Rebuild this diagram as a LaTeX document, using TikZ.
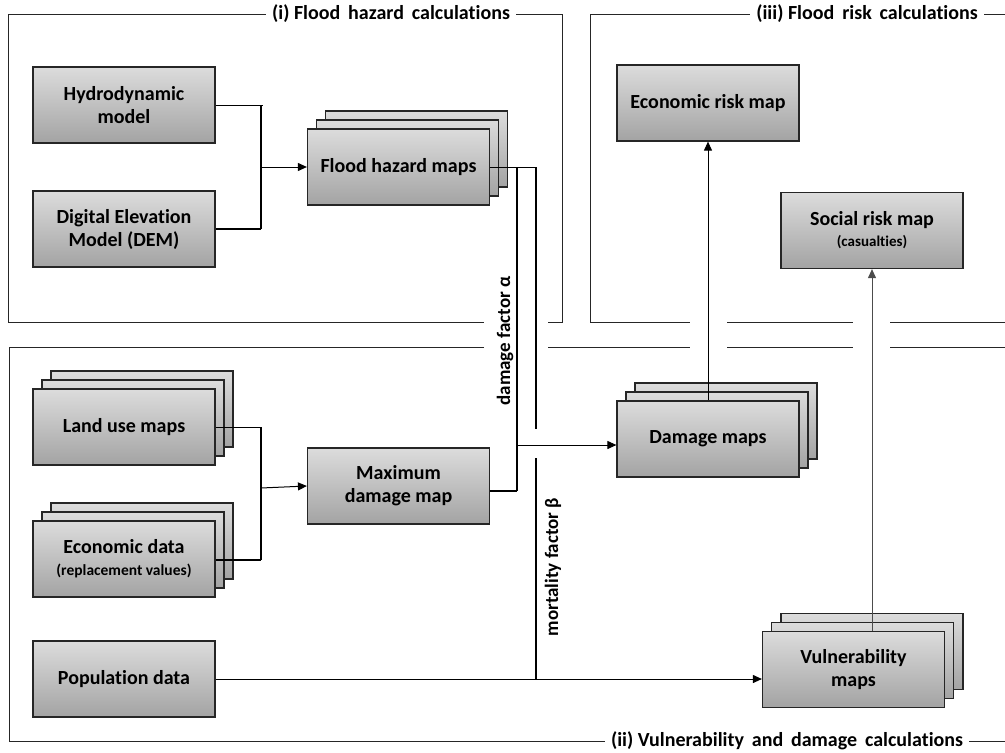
\documentclass[tikz,border=0pt]{standalone}
\usepackage{fontspec}
\setmainfont{Carlito}[Ligatures=NoCommon]
\usetikzlibrary{arrows.meta}
\definecolor{boxtop}{HTML}{DCDCDC}
\definecolor{boxbot}{HTML}{A3A3A3}
\definecolor{edge}{HTML}{262626}
\begin{document}
\begin{tikzpicture}[x=1pt,y=-1pt,
  box/.style={draw=edge, line width=1.2pt, top color=boxtop, bottom color=boxbot,
    minimum width=182pt, minimum height=76pt, inner sep=0pt, align=center,
    font=\fontsize{20}{23}\selectfont\bfseries},
  frameline/.style={line width=1pt, draw=edge},
  ttl/.style={fill=white, inner xsep=6pt, inner ysep=2pt,
    font=\fontsize{20}{22}\selectfont\bfseries},
  conn/.style={line width=1.5pt, draw=black},
  thin/.style={line width=1pt, draw=black},
  arr/.style={line width=1pt, draw=black, -{Triangle[length=9pt,width=8pt]}},
  lbl/.style={rotate=90, font=\fontsize{19}{22}\selectfont\bfseries, inner sep=0pt}
]
\useasboundingbox (0,0) rectangle (1005,753);

% ---------- frames ----------
\draw[frameline] (562,14) -- (8,14) -- (8,322) -- (484,322);
\draw[frameline] (548,322) -- (562,322) -- (562,14);
\node[ttl] (t1) at (391,14) {(i) Flood\, hazard\, calculations};

\draw[frameline] (1005,14) -- (590,14) -- (590,322) -- (690,322);
\draw[frameline] (727,322) -- (853,322);
\draw[frameline] (890,322) -- (1005,322);
\node[ttl] (t3) at (867,14) {(iii) Flood\, risk\, calculations};

\draw[frameline] (484,347) -- (9,347) -- (9,741) -- (1005,741);
\draw[frameline] (548,347) -- (690,347);
\draw[frameline] (727,347) -- (853,347);
\draw[frameline] (890,347) -- (1005,347);
\node[ttl] (t2) at (787,741) {(ii) Vulnerability\, and\, damage\, calculations};

% ---------- boxes ----------
\node[box] (hydro) at (124,105) {Hydrodynamic\\model};
\node[box] (dem) at (124,229) {Digital Elevation\\Model (DEM)};

\node[box] (fhm3) at (416.5,149) {};
\node[box] (fhm2) at (407.5,158) {};
\node[box] (fhm) at (398.5,167) {Flood hazard maps};

\node[box] (lum3) at (142,409) {};
\node[box] (lum2) at (133,418) {};
\node[box] (lum) at (124,427) {Land use maps};

\node[box] (eco3) at (142,541) {};
\node[box] (eco2) at (133,550) {};
\node[box] (eco) at (124,559) {Economic data\\[-1pt]{\fontsize{15.5}{18}\selectfont (replacement values)}};

\node[box] (pop) at (124,679) {Population data};

\node[box] (mdm) at (398.5,486) {Maximum\\damage map};

\node[box] (dm3) at (726,421) {};
\node[box] (dm2) at (717,430) {};
\node[box] (dm) at (708,439) {Damage maps};

\node[box] (vm3) at (872,651.5) {};
\node[box] (vm2) at (862.5,660.5) {};
\node[box] (vm) at (853.5,669.5) {Vulnerability\\maps};

\node[box] (er) at (708,103) {Economic risk map};
\node[box] (sr) at (872,230.5) {Social risk map\\[-2pt]{\fontsize{15}{18}\selectfont (casualties)}};

% ---------- connectors ----------
\coordinate (j1) at (261,167);
\draw[thin] (hydro.east) -- (263,105);
\draw[conn] (261,105) -- (261,229);
\draw[conn] (dem.east) -- (261,229);
\draw[arr] (j1) -- (fhm.west);

\coordinate (j2) at (261,488);
\draw[thin] (lum.east) -- (261,427);
\draw[conn] (261,427) -- (261,560);
\draw[conn] (eco.east |- 0,560) -- (261,560);
\draw[arr] (j2) -- (mdm.west);

% damage path
\coordinate (dtop) at (517,167);
\coordinate (dj) at (517,491);
\coordinate (da) at (517,445);
\draw[thin] (fhm.east) -- (536,167);
\draw[conn] (dtop) -- (dj);
\draw[conn] (mdm.east |- dj) -- (dj);
\draw[arr] (da) -- (da -| dm.west);

% mortality path
\coordinate (mtop) at (536,167);
\coordinate (mj) at (536,679);
\draw[conn] (mtop) -- (536,429);
\draw[conn] (536,458) -- (mj);
\draw[arr] (pop.east) -- (pop.east -| vm.west);

% risk arrows
\draw[arr] (dm.north) -- (er.south);
\draw[arr, draw=black!70] (vm.north -| sr.south) -- (sr.south);

% labels
\node[lbl] (la) at (505,341) {damage factor α};
\node[lbl] (lb) at (553,567) {mortality factor β};
\end{tikzpicture}
\end{document}
